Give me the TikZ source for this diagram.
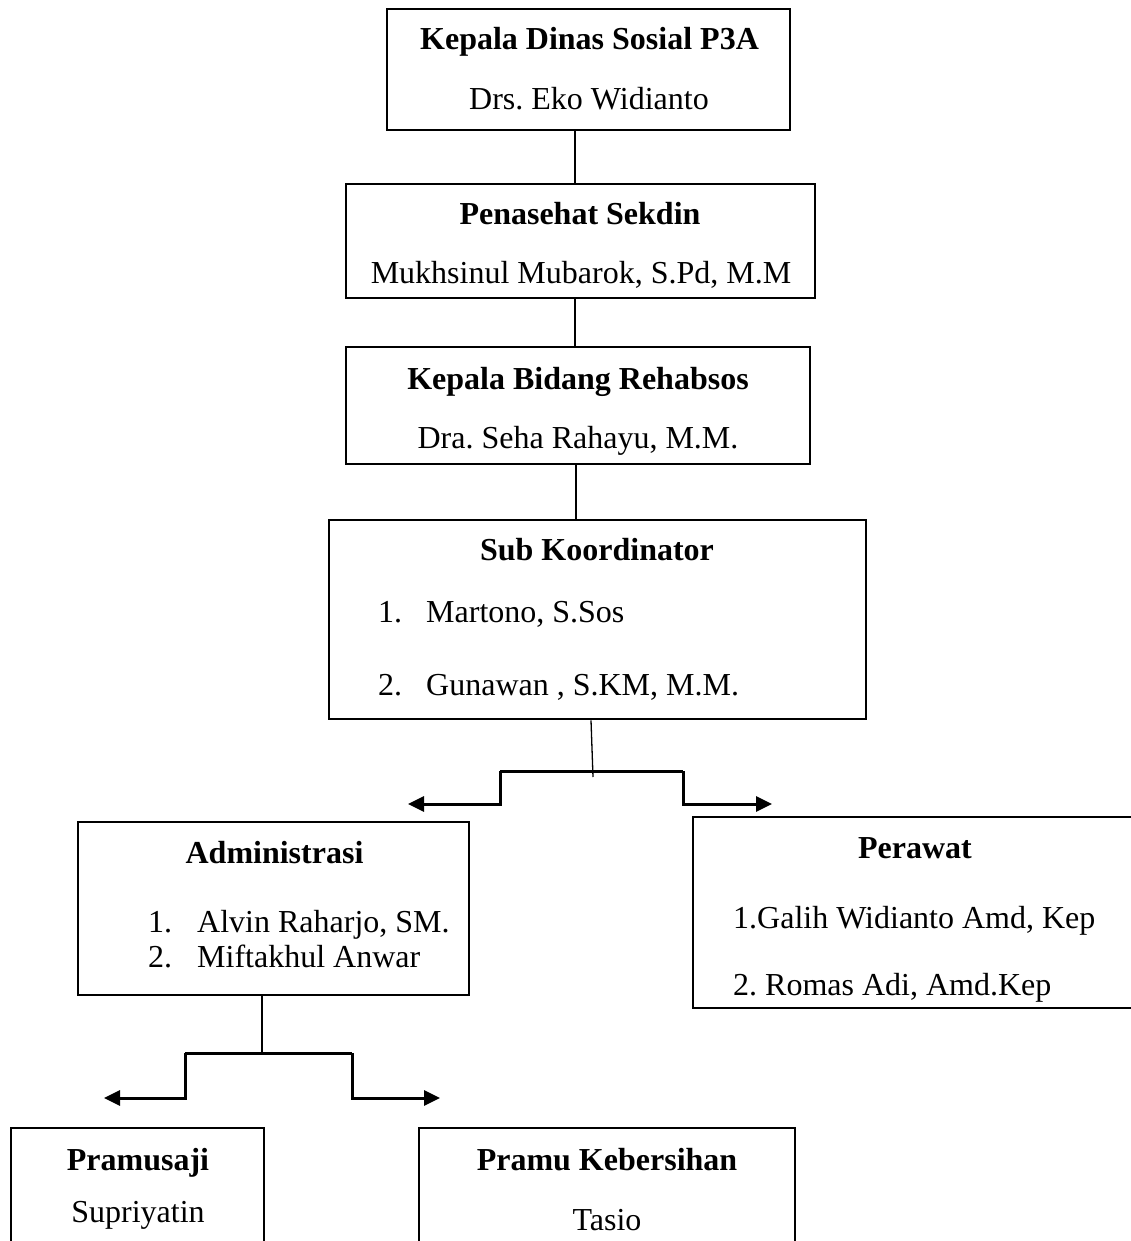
\documentclass[tikz,border=0pt]{standalone}
\usepackage{fontspec}
\setmainfont{Liberation Serif}
\usetikzlibrary{arrows.meta}
\begin{document}
\frenchspacing
\begin{tikzpicture}[x=1pt,y=-1pt,
  box/.style={draw, line width=2.6pt, inner sep=0pt, rectangle},
  txt/.style={inner sep=0pt, anchor=base, font=\fontsize{32}{38}\selectfont\frenchspacing},
  ttl/.style={txt, font=\fontsize{32}{38}\selectfont\bfseries\frenchspacing},
  itm/.style={txt, anchor=base west},
  conn/.style={line width=1.3pt},
  brk/.style={line width=3pt},
  brkarrow/.style={brk, -{Triangle[length=16pt,width=15pt]}}]
\useasboundingbox (0,0) rectangle (1131,1241);
\clip (0,0) rectangle (1131,1241);
% boxes
\node[box, minimum width=403pt, minimum height=121pt] (b1) at (588.5,69.5) {};
\node[box, minimum width=469pt, minimum height=114pt] (b2) at (580.5,241) {};
\node[box, minimum width=464pt, minimum height=117pt] (b3) at (578,405.5) {};
\node[box, minimum width=537pt, minimum height=199pt] (b4) at (597.5,619.5) {};
\node[box, minimum width=391pt, minimum height=173pt] (b5) at (273.5,908.5) {};
\node[box, minimum width=467pt, minimum height=191pt] (b6) at (926.5,912.5) {};
\node[box, minimum width=253pt, minimum height=152pt] (b7) at (137.5,1204) {};
\node[box, minimum width=376pt, minimum height=152pt] (b8) at (607,1204) {};
% texts
\node[ttl] (t1a) at (589.5,50) {Kepala Dinas Sosial P3A};
\node[txt] (t1b) at (589,110) {Drs. Eko Widianto};
\node[ttl] (t2a) at (580,225) {Penasehat Sekdin};
\node[txt] (t2b) at (581,283) {Mukhsinul Mubarok, S.Pd, M.M};
\node[ttl] (t3a) at (578,389) {Kepala Bidang Rehabsos};
\node[txt] (t3b) at (578,448) {Dra. Seha Rahayu, M.M.};
\node[ttl] (t4a) at (597,560) {Sub Koordinator};
\node[itm] (t4n1) at (378,622) {1.};
\node[itm] (t4b) at (426,622) {Martono, S.Sos};
\node[itm] (t4n2) at (378,695) {2.};
\node[itm] (t4c) at (426,695) {Gunawan , S.KM, M.M.};
\node[ttl] (t5a) at (274.5,863) {Administrasi};
\node[itm] (t5n1) at (148,932) {1.};
\node[itm] (t5b) at (197,932) {Alvin Raharjo, SM.};
\node[itm] (t5n2) at (148,967) {2.};
\node[itm] (t5c) at (197,967) {Miftakhul Anwar};
\node[ttl] (t6a) at (915,858) {Perawat};
\node[itm] (t6b) at (733,928) {1.Galih Widianto Amd, Kep};
\node[itm] (t6c) at (733,995) {2. Romas Adi, Amd.Kep};
\node[ttl] (t7a) at (138,1170) {Pramusaji};
\node[txt] (t7b) at (138,1222) {Supriyatin};
\node[ttl] (t8a) at (607,1170) {Pramu Kebersihan};
\node[txt] (t8b) at (607,1230) {Tasio};
% vertical connectors
\draw[conn] (575,0 |- b1.south) -- (575,0 |- b2.north);
\draw[conn] (575,0 |- b2.south) -- (575,0 |- b3.north);
\draw[conn] (576,0 |- b3.south) -- (576,0 |- b4.north);
% first bracket
\coordinate (k1) at (593,777);
\coordinate (p1L) at (500,771);
\coordinate (p1R) at (683,771);
\coordinate (a1L) at (408,804);
\coordinate (a1R) at (772,804);
\draw[conn] (591,0 |- b4.south) -- (k1);
\draw[brk] (p1L) -- (p1R);
\draw[brkarrow] (p1L) |- (a1L);
\draw[brkarrow] (p1R) |- (a1R);
% second bracket
\coordinate (k2) at (262,1053);
\coordinate (p2L) at (185,1053);
\coordinate (p2R) at (352,1053);
\coordinate (a2L) at (104,1098);
\coordinate (a2R) at (440,1098);
\draw[conn] (262,0 |- b5.south) -- (k2);
\draw[brk] (p2L) -- (p2R);
\draw[brkarrow] (p2L) |- (a2L);
\draw[brkarrow] (p2R) |- (a2R);
\end{tikzpicture}
\end{document}
